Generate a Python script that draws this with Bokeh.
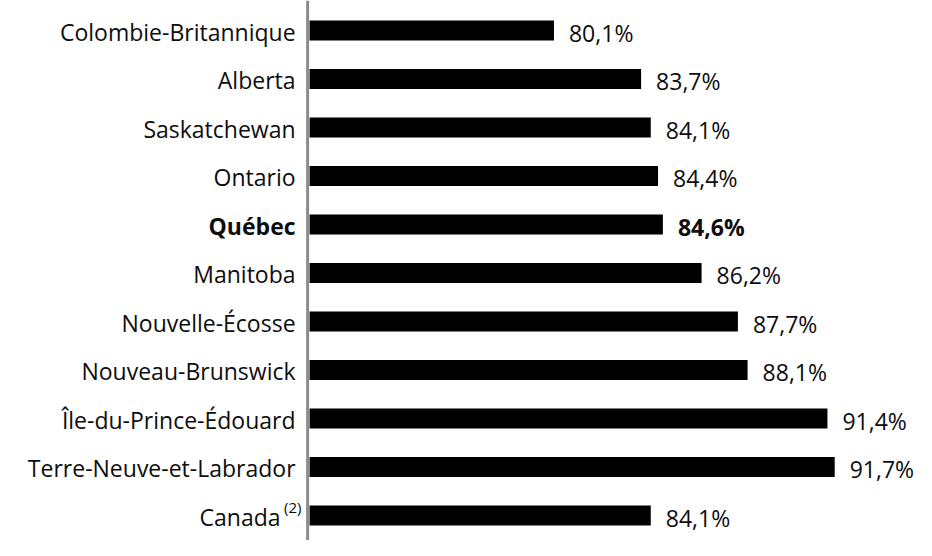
from bokeh.plotting import figure
from bokeh.models import ColumnDataSource, Range1d, Span
from bokeh.core.properties import value
from bokeh.embed import file_html
from bokeh.resources import INLINE

regions = ["Colombie-Britannique", "Alberta", "Saskatchewan", "Ontario", "Québec",
           "Manitoba", "Nouvelle-Écosse", "Nouveau-Brunswick", "Île-du-Prince-Édouard",
           "Terre-Neuve-et-Labrador", "Canada"]
values = [80.1, 83.7, 84.1, 84.4, 84.6, 86.2, 87.7, 88.1, 91.4, 91.7, 84.1]
value_labels = ["80,1%", "83,7%", "84,1%", "84,4%", "84,6%", "86,2%", "87,7%",
                "88,1%", "91,4%", "91,7%", "84,1%"]
highlight = "Québec"
footnote_region = "Canada"
footnote = "(2)"
axis_min = 70

FONT = "Open Sans"
rows = list(range(len(regions)))
styles = ["bold" if r == highlight else "normal" for r in regions]
label_offsets = [-29 if r == footnote_region else -14 for r in regions]

src = ColumnDataSource(dict(
    y=rows, left=[axis_min] * len(rows), right=values,
    region=regions, vlab=value_labels, style=styles, loff=label_offsets,
    x0=[axis_min] * len(rows),
))

p = figure(width=916, height=540, output_backend="svg", toolbar_location=None,
           x_range=Range1d(57.23, 95.08), y_range=Range1d(10.515, -0.619),
           min_border=0, outline_line_color=None)
p.xaxis.visible = False
p.yaxis.visible = False
p.grid.visible = False
p.background_fill_color = "white"
p.border_fill_color = "white"

p.hbar(y="y", left="left", right="right", height=0.412, source=src,
       fill_color="black", line_color=None)

p.add_layout(Span(location=axis_min - 0.08, dimension="height",
                  line_color="#8c8c8c", line_width=3))

p.text(x="x0", y="y", text="region", source=src, x_offset="loff", y_offset=1,
       text_align="right", text_baseline="middle", text_font=value(FONT),
       text_font_size="23px", text_font_style="style", text_color="#0d0d0d")

p.text(x="right", y="y", text="vlab", source=src, x_offset=15, y_offset=2,
       text_align="left", text_baseline="middle", text_font=value(FONT),
       text_font_size="23px", text_font_style="style", text_color="#0d0d0d")

fi = regions.index(footnote_region)
p.text(x=[axis_min], y=[fi], text=[footnote], x_offset=-8, y_offset=-9,
       text_align="right", text_baseline="middle", text_font=value(FONT),
       text_font_size="15px", text_color="#0d0d0d")

open("out.html", "w").write(file_html(p, INLINE))
